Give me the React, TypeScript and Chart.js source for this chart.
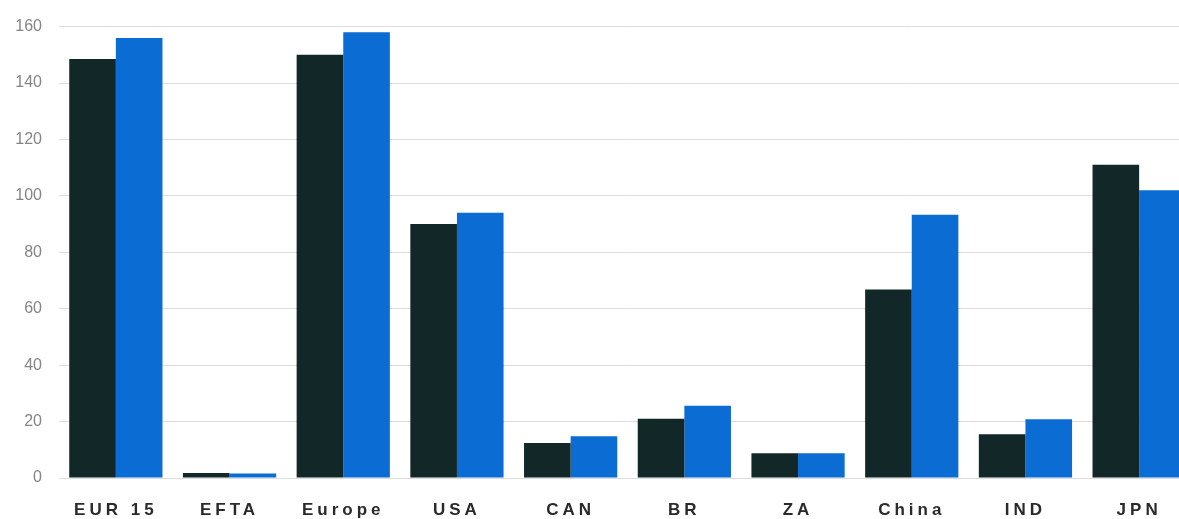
import React, { useEffect, useRef } from "react";
import { Chart, registerables } from "chart.js";

Chart.register(...registerables);

const categories = ["EUR 15", "EFTA", "Europe", "USA", "CAN", "BR", "ZA", "China", "IND", "JPN"];
const seriesDark = [148.5, 1.8, 150, 90, 12.4, 21, 8.8, 66.8, 15.5, 111];
const seriesBlue = [156, 1.6, 158, 94, 14.8, 25.6, 8.8, 93.3, 20.8, 102];
const yTicks = [0, 20, 40, 60, 80, 100, 120, 140, 160];

const letterSpacingPlugin = {
  id: "xLetterSpacing",
  afterDatasetsDraw(chart: any) {
    (chart.ctx as any).letterSpacing = "4px";
  },
  afterDraw(chart: any) {
    (chart.ctx as any).letterSpacing = "0px";
  },
};

export default function App() {
  const ref = useRef<HTMLCanvasElement | null>(null);
  useEffect(() => {
    if (!ref.current) return;
    const chart = new Chart(ref.current, {
      type: "bar",
      data: {
        labels: categories,
        datasets: [
          { label: "Series A", data: seriesDark, backgroundColor: "#122828" },
          { label: "Series B", data: seriesBlue, backgroundColor: "#0b6cd4" },
        ],
      },
      plugins: [letterSpacingPlugin],
      options: {
        animation: false,
        responsive: false,
        devicePixelRatio: 1,
        layout: { padding: { top: 24, right: 4, left: 0, bottom: 0 } },
        plugins: { legend: { display: false }, tooltip: { enabled: false } },
        datasets: { bar: { categoryPercentage: 0.82, barPercentage: 1 } },
        scales: {
          x: {
            grid: { display: false },
            border: { display: false },
            ticks: {
              z: 1,
              autoSkip: false,
              maxRotation: 0,
              padding: 14,
              color: "#2a2a2a",
              font: { family: "'Liberation Sans', Arial, sans-serif", size: 17, weight: "bold" },
            },
            afterFit(scale: any) {
              scale.height = 41;
            },
          },
          y: {
            min: 0,
            max: 160,
            afterBuildTicks(scale: any) {
              scale.ticks = yTicks.map((v) => ({ value: v }));
            },
            grid: { color: "#dddddd", lineWidth: 1, drawTicks: false },
            border: { display: false },
            ticks: {
              padding: 17,
              color: "#858585",
              font: { family: "'Liberation Sans', Arial, sans-serif", size: 16 },
            },
            afterFit(scale: any) {
              scale.width = 59;
            },
          },
        },
      },
    });
    return () => chart.destroy();
  }, []);
  return (
    <div
      style={{
        position: "fixed",
        left: 0,
        top: 0,
        width: "1179px",
        height: "519px",
        overflow: "hidden",
        background: "#ffffff",
      }}
    >
      <canvas ref={ref} width={1200} height={519} style={{ display: "block" }} />
    </div>
  );
}
